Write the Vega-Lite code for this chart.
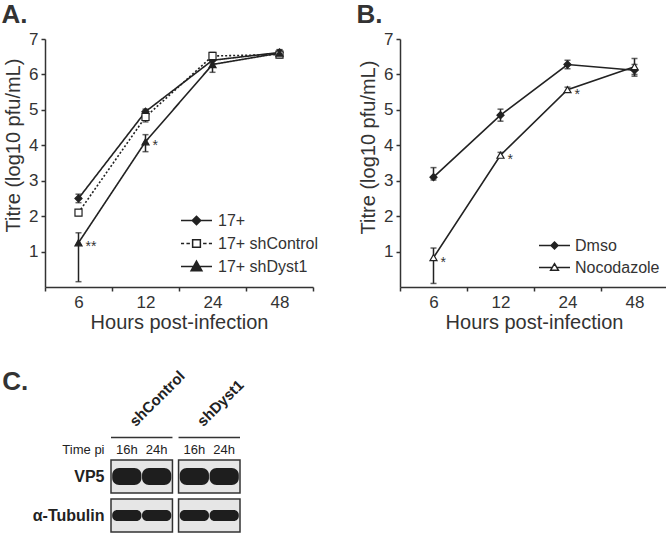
{
  "$schema": "https://vega.github.io/schema/vega-lite/v6.json",
  "padding": {"left": 1, "top": 2, "right": 0, "bottom": 0},
  "background": "white",
  "config": {
    "font": "Liberation Sans",
    "view": {"stroke": null},
    "axis": {"grid": false, "domainColor": "#333", "tickColor": "#333", "labelColor": "#333", "titleColor": "#333", "titleFontWeight": "normal", "labelFont": "Liberation Sans", "titleFont": "Liberation Sans", "domainWidth": 1.5, "tickWidth": 1.5},
    "title": {"font": "Liberation Sans", "fontSize": 26, "fontWeight": "bold", "color": "#333", "anchor": "start", "frame": "bounds"},
    "legend": {"labelFont": "Liberation Sans", "labelFontSize": 16, "labelColor": "#333", "symbolStrokeWidth": 1.5, "symbolStrokeColor": "#222", "symbolFillColor": "transparent"}
  },
  "datasets": {
    "growth": [
      {"panel": "A", "series": "17+", "hours": 6, "titre": 2.5, "lo": 2.38, "hi": 2.62, "sig": ""},
      {"panel": "A", "series": "17+", "hours": 12, "titre": 4.95, "lo": 4.88, "hi": 5.02, "sig": ""},
      {"panel": "A", "series": "17+", "hours": 24, "titre": 6.4, "lo": 6.3, "hi": 6.5, "sig": ""},
      {"panel": "A", "series": "17+", "hours": 48, "titre": 6.62, "lo": 6.55, "hi": 6.69, "sig": ""},
      {"panel": "A", "series": "17+ shControl", "hours": 6, "titre": 2.1, "lo": 2.02, "hi": 2.18, "sig": ""},
      {"panel": "A", "series": "17+ shControl", "hours": 12, "titre": 4.8, "lo": 4.66, "hi": 4.94, "sig": ""},
      {"panel": "A", "series": "17+ shControl", "hours": 24, "titre": 6.52, "lo": 6.42, "hi": 6.62, "sig": ""},
      {"panel": "A", "series": "17+ shControl", "hours": 48, "titre": 6.56, "lo": 6.47, "hi": 6.65, "sig": ""},
      {"panel": "A", "series": "17+ shDyst1", "hours": 6, "titre": 1.25, "lo": 0.15, "hi": 1.53, "sig": "**"},
      {"panel": "A", "series": "17+ shDyst1", "hours": 12, "titre": 4.1, "lo": 3.82, "hi": 4.3, "sig": "*"},
      {"panel": "A", "series": "17+ shDyst1", "hours": 24, "titre": 6.28, "lo": 6.06, "hi": 6.5, "sig": ""},
      {"panel": "A", "series": "17+ shDyst1", "hours": 48, "titre": 6.6, "lo": 6.5, "hi": 6.7, "sig": ""},
      {"panel": "B", "series": "Dmso", "hours": 6, "titre": 3.1, "lo": 3.02, "hi": 3.37, "sig": ""},
      {"panel": "B", "series": "Dmso", "hours": 12, "titre": 4.85, "lo": 4.68, "hi": 5.02, "sig": ""},
      {"panel": "B", "series": "Dmso", "hours": 24, "titre": 6.28, "lo": 6.16, "hi": 6.4, "sig": ""},
      {"panel": "B", "series": "Dmso", "hours": 48, "titre": 6.12, "lo": 5.95, "hi": 6.28, "sig": ""},
      {"panel": "B", "series": "Nocodazole", "hours": 6, "titre": 0.83, "lo": 0.1, "hi": 1.1, "sig": "*"},
      {"panel": "B", "series": "Nocodazole", "hours": 12, "titre": 3.72, "lo": 3.66, "hi": 3.8, "sig": "*"},
      {"panel": "B", "series": "Nocodazole", "hours": 24, "titre": 5.57, "lo": 5.5, "hi": 5.64, "sig": "*"},
      {"panel": "B", "series": "Nocodazole", "hours": 48, "titre": 6.22, "lo": 6.0, "hi": 6.45, "sig": ""}
    ],
    "blot": [
      {"group": "shControl", "time": "16h", "row": "VP5"},
      {"group": "shControl", "time": "24h", "row": "VP5"},
      {"group": "shDyst1", "time": "16h", "row": "VP5"},
      {"group": "shDyst1", "time": "24h", "row": "VP5"},
      {"group": "shControl", "time": "16h", "row": "α-Tubulin"},
      {"group": "shControl", "time": "24h", "row": "α-Tubulin"},
      {"group": "shDyst1", "time": "16h", "row": "α-Tubulin"},
      {"group": "shDyst1", "time": "24h", "row": "α-Tubulin"}
    ]
  },
  "columns": 1,
  "align": "none",
  "spacing": 36,
  "resolve": {"scale": {"shape": "independent", "fill": "independent", "strokeDash": "independent"}, "legend": {"shape": "independent"}},
  "concat": [
    {
      "spacing": 37,
      "resolve": {"scale": {"shape": "independent", "fill": "independent", "strokeDash": "independent"}, "legend": {"shape": "independent"}},
      "hconcat": [
        {
          "width": 268, "height": 248,
          "title": {"text": "A.", "dx": -2, "offset": 2},
          "data": {"name": "growth"},
          "transform": [{"filter": "datum.panel === 'A'"}],
          "resolve": {"scale": {"shape": "independent"}},
          "encoding": {
            "x": {"field": "hours", "type": "ordinal", "bandPosition": 0.5, "scale": {"type": "band", "paddingInner": 0, "paddingOuter": 0}, "axis": {"title": "Hours post-infection", "labelAngle": 0, "labelFontSize": 17, "titleFontSize": 20, "tickBand": "extent", "tickSize": 4, "labelPadding": 3, "titlePadding": 2}},
            "y": {"field": "titre", "type": "quantitative", "title": "Titre (log10 pfu/mL)", "scale": {"domain": [0, 7], "nice": false}, "axis": {"values": [1, 2, 3, 4, 5, 6, 7], "labelFontSize": 17, "titleFontSize": 20, "titleY": 106, "tickSize": 4, "labelPadding": 3, "titlePadding": 5}}
          },
          "layer": [
            {"mark": {"type": "line", "color": "#222", "strokeWidth": 1.6}, "encoding": {"detail": {"field": "series"}, "strokeDash": {"field": "series", "type": "nominal", "scale": {"domain": ["17+", "17+ shControl", "17+ shDyst1"], "range": [[1, 0], [2, 2], [1, 0]]}, "legend": null}}},
            {"mark": {"type": "rule", "color": "#222", "strokeWidth": 1.5}, "encoding": {"y": {"field": "lo", "type": "quantitative", "title": "Titre (log10 pfu/mL)"}, "y2": {"field": "hi"}, "detail": {"field": "series"}}},
            {"mark": {"type": "tick", "color": "#222", "size": 6, "thickness": 1.5}, "encoding": {"y": {"field": "lo", "type": "quantitative", "title": "Titre (log10 pfu/mL)"}}},
            {"mark": {"type": "tick", "color": "#222", "size": 6, "thickness": 1.5}, "encoding": {"y": {"field": "hi", "type": "quantitative", "title": "Titre (log10 pfu/mL)"}}},
            {"mark": {"type": "point", "filled": true, "stroke": "#222", "strokeWidth": 1.2, "size": 50, "opacity": 1},
             "encoding": {
               "fill": {"field": "series", "type": "nominal", "scale": {"domain": ["17+", "17+ shControl", "17+ shDyst1"], "range": ["#222", "white", "#222"]}, "legend": null},
               "shape": {"field": "series", "type": "nominal", "scale": {"domain": ["17+", "17+ shControl", "17+ shDyst1"], "range": ["diamond", "square", "triangle-up"]}, "legend": null}
             }},
            {"transform": [{"filter": "false"}],
             "mark": {"type": "point", "filled": false, "stroke": "#222", "strokeWidth": 1.5, "size": 240, "opacity": 1},
             "encoding": {
               "shape": {"field": "series", "type": "nominal",
                 "scale": {"domain": ["17+", "17+ shControl", "17+ shDyst1"], "range": [
                   "M-2,0H2M0,-0.55L0.55,0L0,0.55L-0.55,0ZM0,-0.32L0.32,0L0,0.32L-0.32,0ZM0,-0.1L0.1,0L0,0.1L-0.1,0Z",
                   "M-2,0H-1.6M-1.3,0H-0.85M0.85,0H1.3M1.6,0H2M-0.5,-0.5H0.5V0.5H-0.5Z",
                   "M-2,0H2M0,-0.7L0.7,0.55H-0.7ZM0,-0.37L0.42,0.38H-0.42ZM0,-0.08L0.18,0.24H-0.18Z"]},
                 "legend": {"orient": "none", "legendX": 143, "legendY": 173, "title": null, "rowPadding": 6, "labelOffset": 13, "symbolSize": 240, "symbolOpacity": 1}}
             }},
            {"mark": {"type": "text", "align": "left", "baseline": "middle", "dx": 7, "dy": 4, "fontSize": 14, "color": "#333"}, "encoding": {"text": {"field": "sig"}}}
          ]
        },
        {
          "width": 268, "height": 248,
          "title": {"text": "B.", "dx": -2, "offset": 2},
          "data": {"name": "growth"},
          "transform": [{"filter": "datum.panel === 'B'"}],
          "resolve": {"scale": {"shape": "independent"}},
          "encoding": {
            "x": {"field": "hours", "type": "ordinal", "bandPosition": 0.5, "scale": {"type": "band", "paddingInner": 0, "paddingOuter": 0}, "axis": {"title": "Hours post-infection", "labelAngle": 0, "labelFontSize": 17, "titleFontSize": 20, "tickBand": "extent", "tickSize": 4, "labelPadding": 3, "titlePadding": 2}},
            "y": {"field": "titre", "type": "quantitative", "title": "Titre (log10 pfu/mL)", "scale": {"domain": [0, 7], "nice": false}, "axis": {"values": [1, 2, 3, 4, 5, 6, 7], "labelFontSize": 17, "titleFontSize": 20, "titleY": 108, "tickSize": 4, "labelPadding": 3, "titlePadding": 5}}
          },
          "layer": [
            {"mark": {"type": "line", "color": "#222", "strokeWidth": 1.6}, "encoding": {"detail": {"field": "series"}}},
            {"mark": {"type": "rule", "color": "#222", "strokeWidth": 1.5}, "encoding": {"y": {"field": "lo", "type": "quantitative", "title": "Titre (log10 pfu/mL)"}, "y2": {"field": "hi"}, "detail": {"field": "series"}}},
            {"mark": {"type": "tick", "color": "#222", "size": 6, "thickness": 1.5}, "encoding": {"y": {"field": "lo", "type": "quantitative", "title": "Titre (log10 pfu/mL)"}}},
            {"mark": {"type": "tick", "color": "#222", "size": 6, "thickness": 1.5}, "encoding": {"y": {"field": "hi", "type": "quantitative", "title": "Titre (log10 pfu/mL)"}}},
            {"mark": {"type": "point", "filled": true, "stroke": "#222", "strokeWidth": 1.2, "size": 50, "opacity": 1},
             "encoding": {
               "fill": {"field": "series", "type": "nominal", "scale": {"domain": ["Dmso", "Nocodazole"], "range": ["#222", "white"]}, "legend": null},
               "shape": {"field": "series", "type": "nominal", "scale": {"domain": ["Dmso", "Nocodazole"], "range": ["diamond", "triangle-up"]}, "legend": null}
             }},
            {"transform": [{"filter": "false"}],
             "mark": {"type": "point", "filled": false, "stroke": "#222", "strokeWidth": 1.5, "size": 240, "opacity": 1},
             "encoding": {
               "shape": {"field": "series", "type": "nominal",
                 "scale": {"domain": ["Dmso", "Nocodazole"], "range": [
                   "M-2,0H2M0,-0.45L0.45,0L0,0.45L-0.45,0ZM0,-0.22L0.22,0L0,0.22L-0.22,0Z",
                   "M-2,0H-0.3M0.3,0H2M0,-0.5L0.5,0.35H-0.5Z"]},
                 "legend": {"orient": "none", "legendX": 146, "legendY": 198, "title": null, "rowPadding": 5, "labelOffset": 12, "symbolSize": 240, "symbolOpacity": 1}}
             }},
            {"mark": {"type": "text", "align": "left", "baseline": "middle", "dx": 7, "dy": 5, "fontSize": 14, "color": "#333"}, "encoding": {"text": {"field": "sig"}}}
          ]
        }
      ]
    },
    {
      "width": 195, "height": 117,
      "title": {"text": "C.", "dx": -30, "dy": 30},
      "data": {"name": "blot"},
      "encoding": {
        "x": {"field": "group", "type": "nominal", "scale": {"domain": ["shControl", "shDyst1"], "range": [66, 195], "paddingInner": 0.09, "paddingOuter": 0}, "axis": null},
        "y": {"field": "row", "type": "nominal", "scale": {"domain": ["Time pi", "VP5", "α-Tubulin"], "paddingInner": 0, "paddingOuter": 0},
          "axis": {"title": null, "domain": false, "ticks": false, "offset": -66, "labelPadding": 7, "labelColor": "#222",
            "labelFontSize": {"condition": {"test": "datum.value === 'Time pi'", "value": 13}, "value": 16},
            "labelFontWeight": {"condition": {"test": "datum.value === 'Time pi'", "value": "normal"}, "value": "bold"},
            "labelOffset": {"condition": {"test": "datum.value === 'Time pi'", "value": 12.5}, "value": 0}}}
      },
      "layer": [
        {"transform": [{"filter": "datum.time === '16h'"}], "mark": {"type": "rect", "height": 33, "fill": "#e6e6e6", "stroke": "#333", "strokeWidth": 1.5}},
        {"transform": [{"filter": "datum.row === 'VP5'"}], "mark": {"type": "rect", "height": 17, "fill": "#1e1e1e", "cornerRadius": 7}, "encoding": {"xOffset": {"field": "time", "type": "nominal", "scale": {"paddingInner": 0.02, "paddingOuter": 0.04}}}},
        {"transform": [{"filter": "datum.row === 'α-Tubulin'"}], "mark": {"type": "rect", "height": 11, "fill": "#1e1e1e", "cornerRadius": 5}, "encoding": {"xOffset": {"field": "time", "type": "nominal", "scale": {"paddingInner": 0.02, "paddingOuter": 0.04}}}},
        {"transform": [{"filter": "datum.time === '16h' && datum.row === 'VP5'"}], "mark": {"type": "rect", "height": 1.5, "fill": "#333"}, "encoding": {"y": {"datum": "Time pi", "type": "nominal"}}},
        {"transform": [{"filter": "datum.row === 'VP5'"}], "mark": {"type": "text", "dy": 12.5, "fontSize": 13, "color": "#222"}, "encoding": {"xOffset": {"field": "time", "type": "nominal", "scale": {"paddingInner": 0.02, "paddingOuter": 0.04}}, "y": {"datum": "Time pi", "type": "nominal"}, "text": {"field": "time"}}},
        {"transform": [{"filter": "datum.time === '16h' && datum.row === 'VP5'"}], "mark": {"type": "text", "angle": -45, "align": "left", "baseline": "alphabetic", "dx": 3, "dy": -11.5, "fontSize": 15, "fontWeight": "bold", "color": "#222"}, "encoding": {"y": {"datum": "Time pi", "type": "nominal"}, "text": {"field": "group"}}}
      ]
    }
  ]
}
